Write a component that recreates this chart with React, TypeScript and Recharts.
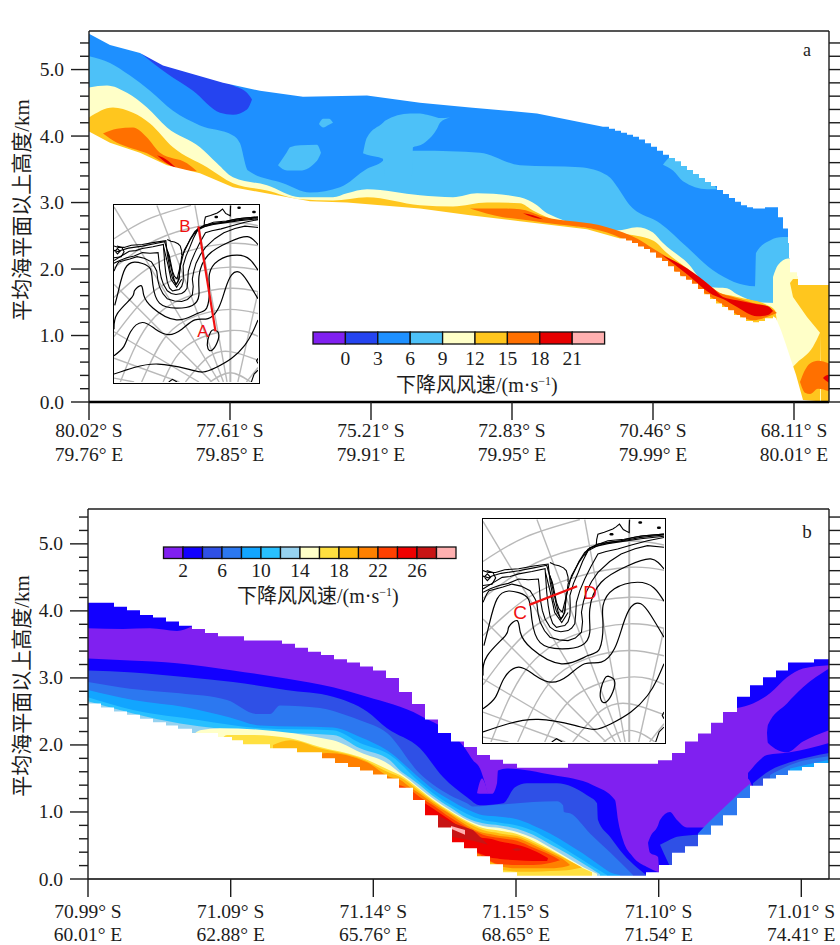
import React from "react";
import { ComposedChart, Area, Line, LineChart, XAxis, YAxis } from "recharts";

type Pt = number[];
const SERIF = "'Liberation Serif','Noto Sans CJK SC',serif";
const INK = "#1c1c1c";

// tick labels
const aLat = ["80.02° S", "77.61° S", "75.21° S", "72.83° S", "70.46° S", "68.11° S"];
const aLon = ["79.76° E", "79.85° E", "79.91° E", "79.95° E", "79.99° E", "80.01° E"];
const bLat = ["70.99° S", "71.09° S", "71.14° S", "71.15° S", "71.10° S", "71.01° S"];
const bLon = ["60.01° E", "62.88° E", "65.76° E", "68.65° E", "71.54° E", "74.41° E"];
const aTicks = [0, 141, 282, 423, 564, 705];
const bTicks = [0, 142.7, 285.3, 428, 570.7, 713.3];
const yTicks = [0, 0.2, 0.4, 0.6, 0.8, 1, 1.2, 1.4, 1.6, 1.8, 2, 2.2, 2.4, 2.6, 2.8, 3, 3.2, 3.4, 3.6, 3.8, 4, 4.2, 4.4, 4.6, 4.8, 5, 5.2, 5.4];

// legends
const aColors = ["#8020F0", "#2544F0", "#1E90FF", "#4DC1F8", "#FFFFC8", "#FFC61E", "#FF7000", "#E60000", "#FFB0B0"];
const aLegend = ["0", "3", "6", "9", "12", "15", "18", "21"];
const bColors = ["#8020F0", "#1200FF", "#2F50E6", "#2C78F0", "#12A5FF", "#28C0FF", "#96D2F0", "#FFFFC8", "#FFE040", "#FFB90F", "#FF8000", "#FF4000", "#F00000", "#C81414", "#FFB0B0"];
const bLegend = ["2", "", "6", "", "10", "", "14", "", "18", "", "22", "", "26"];

// panel a: [distance, upper km, lower km]
const aEnvelope: Pt[] = [[0, 5.54], [21, 5.37], [51, 5.25], [74, 5.06], [134, 4.8], [171, 4.68], [214, 4.59], [278, 4.61], [331, 4.5], [381, 4.43], [448, 4.34], [514, 4.14]];
const aEnvelopeSteps: Pt[] = [[514, 4.14], [520, 4.11], [526, 4.08], [532, 4.05], [538, 4.02], [544, 3.99], [550, 3.95], [556, 3.89], [562, 3.84], [568, 3.78], [574, 3.72], [580, 3.67], [586, 3.62], [592, 3.55], [598, 3.49], [604, 3.43], [610, 3.37], [616, 3.31], [622, 3.25], [628, 3.19], [634, 3.13], [640, 3.07], [646, 3.01], [652, 2.96], [658, 2.93], [664, 2.91], [676, 2.93], [689, 2.78], [694, 2.61], [699, 2.39], [700, 2.16], [701, 1.95], [708, 1.89], [709, 1.76], [740, 1.76]];
const aTerrain: Pt[] = [[0, 4.07], [21, 3.9], [51, 3.75], [78, 3.56], [111, 3.44], [144, 3.23], [188, 3.11], [221, 3.02], [258, 3.0], [331, 2.91], [381, 2.81], [431, 2.72], [498, 2.6], [531, 2.46]];
const aTerrainSteps: Pt[] = [[531, 2.46], [537, 2.43], [543, 2.39], [549, 2.34], [555, 2.3], [561, 2.25], [567, 2.17], [573, 2.12], [579, 2.04], [585, 1.96], [591, 1.89], [597, 1.84], [603, 1.78], [609, 1.7], [615, 1.62], [621, 1.55], [627, 1.48], [633, 1.43], [639, 1.38], [645, 1.31], [651, 1.27], [657, 1.22], [664, 1.2], [670, 1.22], [676, 1.26], [684, 1.29]];
const aTerrainEnd: Pt[] = [[684, 1.29], [687, 1.26], [692, 1.08], [697, 0.86], [702, 0.63], [707, 0.41], [714, 0.03], [740, 0]];
const aBlueBase: Pt[] = [[0, 5.58], [740, 5.58]];
const aLightMain: Pt[] = [[0, 5.2], [21, 5.1], [41, 4.91], [61, 4.68], [84, 4.38], [111, 4.16], [144, 4.01], [151, 3.89], [159, 3.48], [194, 3.29], [221, 3.15], [251, 3.23], [278, 3.51], [294, 3.63], [295, 3.78], [331, 3.78], [391, 3.75], [431, 3.56], [491, 3.53], [518, 3.41], [544, 2.91], [571, 2.69], [598, 2.33], [624, 1.98], [666, 1.74], [667, 2.24], [681, 2.43], [694, 2.48], [700, 2.48]];
const aLightBlob: Pt[] = [[274, 3.74, 3.74], [278, 3.98, 3.72], [294, 4.2, 3.66], [296, 4.23, 3.4], [321, 4.34, 3.4], [323, 4.34, 3.4], [324, 4.34, 3.83], [331, 4.34, 3.86], [338, 4.32, 3.93], [348, 4.28, 4.11], [351, 4.27, 4.2], [361, 4.28, 4.28]];
const aLightIsland: Pt[] = [[189, 3.56, 3.56], [198, 3.76, 3.48], [201, 3.83, 3.48], [211, 3.86, 3.48], [228, 3.87, 3.63], [232, 3.75, 3.75]];
const aLightDot: Pt[] = [[230, 4.18, 4.18], [234, 4.26, 4.13], [240, 4.26, 4.17], [244, 4.2, 4.2]];
const aLightWedge: Pt[] = [[574, 3.57, 3.57], [584, 3.7, 3.48], [594, 3.6, 3.32], [618, 3.5, 3.2], [624, 3.3, 3.2], [628, 3.2, 3.2]];
const aDark: Pt[] = [[53, 5.24, 5.23], [78, 5.1, 4.94], [104, 5.0, 4.68], [131, 4.85, 4.35], [144, 4.76, 4.32], [158, 4.65, 4.4], [163, 4.55, 4.55]];
const aCream: Pt[] = [[0, 4.73], [18, 4.76], [38, 4.65], [58, 4.43], [78, 4.13], [111, 3.83], [128, 3.59], [144, 3.38], [178, 3.26], [211, 3.08], [244, 3.08], [258, 3.14], [278, 3.2], [331, 3.11], [364, 3.08], [388, 3.14], [431, 3.08], [448, 2.96], [458, 2.84], [528, 2.58], [548, 2.63], [564, 2.55], [574, 2.39], [598, 2.1], [621, 1.73], [638, 1.71], [648, 1.62], [671, 1.5], [686, 1.49]];
const aCreamRight: Pt[] = [[684, 1.88], [689, 2.06], [699, 2.16], [740, 2.16]];
const aYellow: Pt[] = [[0, 4.28], [24, 4.43], [44, 4.35], [61, 4.19], [84, 3.83], [118, 3.53], [144, 3.29], [178, 3.18], [211, 3.05], [244, 3.03], [278, 3.08], [331, 2.96], [364, 2.94], [398, 3.0], [431, 2.99], [444, 2.88], [458, 2.78], [531, 2.54], [564, 2.43], [578, 2.24], [598, 2.01], [624, 1.68], [648, 1.58], [678, 1.46], [686, 1.38], [688, 1.2]];
const aYellowUpper: Pt[] = [[701, 1.79, 1.79], [704, 1.85, 1.58], [718, 1.85, 1.28], [731, 1.85, 1.04], [732, 1.85, 0], [740, 1.85, 0]];
const aYellowLower: Pt[] = [[704, 0.53], [708, 0.59], [724, 0.83], [731, 1.04]];
const aOrangeLeft: Pt[] = [[14, 4.04, 4.04], [28, 4.11, 3.9], [44, 4.13, 3.81], [58, 3.98, 3.74], [71, 3.75, 3.63], [98, 3.59, 3.48], [108, 3.47, 3.47]];
const aOrangeMid: Pt[] = [[381, 2.91, 2.91], [414, 2.91, 2.78], [431, 2.9, 2.75], [454, 2.79, 2.7], [518, 2.63, 2.55], [548, 2.46, 2.34], [564, 2.31, 2.19], [591, 2.06, 1.91], [614, 1.83, 1.65], [631, 1.64, 1.49], [644, 1.58, 1.35], [664, 1.49, 1.23], [678, 1.44, 1.28], [688, 1.34, 1.34]];
const aOrangeRight: Pt[] = [[711, 0.3, 0.3], [716, 0.48, 0.14], [721, 0.58, 0.12], [729, 0.62, 0.2], [740, 0.58, 0.16]];
const aRedLeft: Pt[] = [[68, 3.71, 3.71], [76, 3.66, 3.61], [88, 3.51, 3.51]];
const aRedThin: Pt[] = [[434, 2.84, 2.84], [444, 2.81, 2.78], [454, 2.75, 2.75]];
const aRedMain: Pt[] = [[573, 2.21, 2.21], [598, 2.01, 1.92], [624, 1.71, 1.61], [634, 1.58, 1.55], [648, 1.53, 1.43], [668, 1.47, 1.29], [679, 1.44, 1.31], [684, 1.37, 1.37]];
const aRedRight: Pt[] = [[734, 0.36, 0.36], [737, 0.4, 0.32], [740, 0.41, 0.29]];

// panel b
const bEnvelope: Pt[] = [[0, 4.12], [26, 4.06], [39, 4.01], [52, 3.94], [65, 3.9], [78, 3.84], [91, 3.78], [104, 3.73], [117, 3.67], [130, 3.62], [156, 3.56], [194, 3.51], [207, 3.45], [220, 3.39], [233, 3.34], [246, 3.28], [259, 3.23], [272, 3.17], [285, 3.11], [298, 3.0], [311, 2.79], [324, 2.61], [337, 2.38], [350, 2.18], [363, 2.05], [376, 1.97], [389, 1.85], [402, 1.78], [415, 1.72], [429, 1.66], [480, 1.72], [570, 1.77], [584, 1.88], [597, 2.05], [610, 2.17], [623, 2.33], [635, 2.49], [649, 2.72], [662, 2.89], [675, 3.01], [688, 3.11], [700, 3.23], [726, 3.28], [741, 3.28]];
const bTerrain: Pt[] = [[0, 2.62], [13, 2.56], [26, 2.5], [39, 2.45], [52, 2.39], [65, 2.34], [78, 2.29], [90, 2.24], [104, 2.18], [130, 2.12], [144, 2.07], [155, 2.01], [182, 1.95], [209, 1.89], [234, 1.8], [247, 1.73], [260, 1.67], [272, 1.62], [285, 1.56], [299, 1.5], [311, 1.36], [325, 1.18], [337, 0.95], [350, 0.77], [364, 0.55], [376, 0.46], [389, 0.34], [402, 0.22], [415, 0.1], [429, 0.05], [558, 0.1], [571, 0.21], [584, 0.39], [597, 0.49], [610, 0.66], [623, 0.8], [635, 0.95], [649, 1.21], [662, 1.39], [675, 1.5], [688, 1.55], [700, 1.62], [714, 1.67], [726, 1.73], [741, 1.73]];
const bPurpleBase: Pt[] = [[0, 5.52], [741, 5.52]];
const bBlueTop: Pt[] = [[0, 4.3, 3.74], [35, 4.3, 3.73], [62, 4.3, 3.74], [89, 4.3, 3.7], [104, 4.3, 3.77]];
const bBlue: Pt[] = [[0, 3.29], [42, 3.26], [89, 3.22], [145, 3.11], [198, 2.99], [245, 2.86], [279, 2.72], [332, 2.44], [377, 1.95], [385, 1.77], [392, 1.65], [397, 1.43], [400, 1.27], [404, 1.27], [409, 1.43], [410, 1.62], [419, 1.65], [465, 1.55], [505, 1.4], [527, 1.18], [530, 0.88], [535, 0.58], [545, 0.33], [559, 0.18], [571, 0.1]];
const bTongue: Pt[] = [[389, 1.28, 1.28], [394, 1.5, 1.27], [397, 1.43, 1.27], [400, 1.27, 1.27]];
const bPocketBlue: Pt[] = [[560, 0.54, 0.54], [562, 0.62, 0.39], [570, 0.8, 0.33], [572, 0.88, 0], [582, 1.0, 0], [589, 0.88, 0], [599, 0.77, 0], [622, 0.77, 0]];
const bPocketRoyal: Pt[] = [[572, 0.51, 0.51], [580, 0.57, 0.25], [589, 0.63, 0], [610, 0.66, 0]];
const bEdgeStrip: Pt[] = [[610, 0.68], [623, 0.88], [635, 1.05], [649, 1.25], [662, 1.42]];
const bUpperRightBlue: Pt[] = [[649, 3.6, 2.55], [665, 3.6, 2.62], [682, 3.6, 2.77], [699, 3.6, 3.01], [715, 3.6, 3.14], [741, 3.6, 3.19]];
const bBlobRight: Pt[] = [[679, 2.18, 2.18], [680, 2.3, 2.03], [699, 2.62, 1.89], [715, 2.86, 2.05], [741, 3.14, 2.22]];
const bLowerRightBlue: Pt[] = [[660, 1.58, 1.5], [664, 1.65, 1.38], [670, 1.75, 0], [679, 1.85, 0], [702, 1.89, 0], [741, 2.03, 0]];
const bLowerRightRoyal: Pt[] = [[665, 1.43, 0], [682, 1.62, 0], [702, 1.74, 0], [741, 1.88, 0]];
const bLowerRightSky: Pt[] = [[682, 1.55, 0], [702, 1.7, 0], [741, 1.83, 0]];
const bLowerRightAzure: Pt[] = [[702, 1.65, 0], [741, 1.78, 0]];
const bRoyal: Pt[] = [[0, 3.11], [45, 3.08], [99, 3.01], [145, 2.94], [198, 2.82], [245, 2.72], [279, 2.5], [299, 2.25], [332, 1.95], [355, 1.52], [379, 1.22], [392, 1.1], [415, 1.13], [427, 1.37], [439, 1.43], [469, 1.43], [499, 1.25], [509, 1.13], [510, 0.88], [522, 0.63], [532, 0.43], [559, 0.05]];
const bSky: Pt[] = [[0, 2.94], [42, 2.84], [92, 2.77], [139, 2.67], [169, 2.46], [182, 2.46], [192, 2.59], [232, 2.55], [259, 2.44], [272, 2.37], [299, 2.18], [332, 1.57], [345, 1.41], [362, 1.25], [379, 1.13], [385, 1.08], [412, 1.11], [445, 1.15], [469, 1.16], [475, 1.1], [476, 1.0], [482, 0.98], [502, 0.68], [522, 0.4], [545, 0.06]];
const bAzure: Pt[] = [[0, 2.82], [45, 2.67], [99, 2.56], [142, 2.41], [172, 2.29], [245, 2.26], [272, 2.12], [299, 1.92], [332, 1.5], [345, 1.34], [362, 1.18], [379, 1.04], [395, 0.95], [412, 0.93], [429, 0.89], [445, 0.8], [462, 0.68], [479, 0.53], [495, 0.38], [512, 0.2], [522, 0.1], [532, 0.06]];
const bCyan: Pt[] = [[0, 2.71], [45, 2.52], [112, 2.37], [172, 2.25], [245, 2.22], [272, 2.03], [302, 1.85], [332, 1.44], [345, 1.28], [362, 1.11], [379, 0.97], [395, 0.88], [412, 0.84], [429, 0.8], [445, 0.72], [462, 0.58], [479, 0.43], [495, 0.28], [509, 0.15], [519, 0.06]];
const bPale: Pt[] = [[0, 2.65], [45, 2.47], [92, 2.32], [179, 2.19], [245, 2.15], [272, 1.95], [302, 1.77], [312, 1.62], [322, 1.51], [332, 1.4], [345, 1.24], [362, 1.07], [379, 0.91], [395, 0.83], [412, 0.8], [429, 0.75], [445, 0.66], [462, 0.52], [479, 0.38], [495, 0.23], [512, 0.07]];
const bCream: Pt[] = [[105, 2.15], [112, 2.22], [132, 2.25], [245, 2.07], [272, 1.89], [302, 1.7], [312, 1.58], [322, 1.475], [332, 1.35], [345, 1.2], [362, 1.03], [379, 0.88], [395, 0.79], [412, 0.76], [429, 0.7], [445, 0.61], [462, 0.47], [479, 0.32], [495, 0.18], [509, 0.08]];
const bLemon: Pt[] = [[132, 2.05], [139, 2.15], [165, 2.15], [202, 2.1], [232, 1.97], [272, 1.82], [302, 1.62], [312, 1.55], [322, 1.45], [332, 1.33], [345, 1.18], [362, 1.01], [379, 0.86], [395, 0.76], [412, 0.72], [429, 0.67], [445, 0.57], [462, 0.44], [479, 0.3], [495, 0.16], [504, 0.1]];
const bGold: Pt[] = [[185, 2.0], [202, 2.07], [232, 1.95], [272, 1.8], [302, 1.58], [312, 1.52], [322, 1.42], [332, 1.3], [345, 1.16], [362, 0.99], [379, 0.84], [395, 0.73], [412, 0.68, 0], [415, 0.67, 0.13], [429, 0.64, 0.11], [445, 0.54, 0.11], [462, 0.42, 0.12], [479, 0.29, 0.13], [494, 0.17, 0.17]];
const bOrange: Pt[] = [[225, 1.85], [239, 1.88], [279, 1.74], [302, 1.52], [312, 1.48], [322, 1.37], [332, 1.27], [345, 1.13], [362, 0.97], [379, 0.8], [395, 0.69, 0], [402, 0.67, 0.25], [412, 0.64, 0.19], [429, 0.61, 0.16], [445, 0.51, 0.16], [462, 0.39, 0.16], [479, 0.25, 0.19], [482, 0.21, 0.21]];
const bVermilion: Pt[] = [[299, 1.42], [312, 1.4], [322, 1.33], [332, 1.22], [345, 1.1], [362, 0.92], [379, 0.77], [389, 0.7, 0.38], [395, 0.66, 0.33], [412, 0.61, 0.22], [429, 0.57, 0.21], [445, 0.47, 0.21], [462, 0.36, 0.24], [472, 0.28, 0.28]];
const bRed: Pt[] = [[332, 1.18], [345, 1.05], [362, 0.88], [377, 0.72, 0.46], [395, 0.61, 0.36], [402, 0.6, 0.32], [412, 0.56, 0.3], [429, 0.51, 0.28], [445, 0.43, 0.27], [459, 0.32, 0.27], [460, 0.31, 0.31]];
const bCrimson: Pt[] = [[350, 0.95, 0.77], [364, 0.84, 0.63], [385, 0.73, 0.57], [400, 0.51, 0.51]];
const bCrimsonDot: Pt[] = [[424, 0.44, 0.44], [429, 0.46, 0.42], [434, 0.44, 0.44]];
const bPink: Pt[] = [[363, 0.79, 0.75], [377, 0.73, 0.66]];

// inset map, in map-sheet units
const gratArcs: Pt[][] = [
  [[66.6, 0], [80.8, 6.4], [95, 0]],
  [[49.6, 0], [65.3, 17.2], [80.8, 21], [100, 15]],
  [[34.1, 0], [50.7, 25], [80.8, 35.6], [100, 31.6]],
  [[19.2, 0], [36.1, 31.6], [58, 46], [80.8, 50.2], [100, 47.3]],
  [[4.4, 0], [23.4, 39.2], [50.7, 58.8], [80.8, 64.8], [100, 62.4]],
  [[0, 31.4], [23.4, 59.3], [50.7, 74.3], [80.8, 79.4], [100, 77.4]],
  [[0, 58.4], [23.4, 78.3], [50.7, 90.3], [80.8, 95.8], [100, 94.2]],
  [[0, 78.8], [23.4, 95.2], [50.7, 105.7], [80.8, 110.2], [100, 108]],
  [[0, 99], [23.4, 112.4], [53.5, 122]],
];
const gratRays: Pt[][] = [
  [[80.8, 122], [80.8, 0]],
  [[56.2, 122], [78.5, 0]],
  [[29.8, 122], [76, 0]],
  [[0, 121], [73, 0]],
  [[0, 67.5], [68, 0]],
  [[0, 34.7], [59, 0]],
  [[0, 16.4], [45.4, 0]],
  [[0, 2.7], [14, 0]],
  [[100, 62], [86, 0]],
  [[100, 10], [92, 0]],
];
const contours: Pt[][] = [
  [[0, 5.5], [14, 10], [30.6, 12.4], [50.7, 9.1], [61.7, 6.9], [70.8, 10], [81.7, 16.4], [90.9, 25.5], [96.4, 34.7], [100, 42.9]],
  [[69, 36.1], [72.6, 33.8], [71.7, 27.4], [68.1, 22], [65.3, 22.9], [65, 28.4], [67.2, 34.7], [69, 36.1]],
  [[0, 18.2], [6.9, 24.6], [11.5, 34.7], [19.7, 41.1], [28.8, 36.5], [38, 32.8], [47.1, 36.5], [56.2, 42.9], [65.3, 43.8], [72.6, 51.1], [77.2, 63.9], [81.7, 74], [87.2, 75.8], [92.7, 69.5], [100, 57.5]],
  [[0, 36.5], [2.4, 47.4], [12.4, 58.4], [14.2, 63], [18.8, 66.6], [20.6, 60.2], [27, 51.1], [43.4, 42.9], [58, 47.4], [64.4, 51.1], [66.3, 63.9], [66.3, 74.8], [72.6, 84], [85.4, 87.6], [94.5, 84.5], [100, 77.2]],
  [[0.5, 52.9], [3.3, 63.9], [7.8, 78.5], [14.2, 82.8], [19.7, 81.9], [25.2, 78.2], [27, 67.2], [31.6, 54.5], [43.4, 51.1], [54.4, 52.9], [59, 60.2], [59, 72.9], [65.3, 87.6], [80, 96.7], [92.7, 100.4], [100, 94.9]],
];
const coastLines: Pt[][] = [
  [[0, 76.6], [2, 81], [3.3, 83], [7, 83.9], [11, 85], [16, 86.6], [21, 85.5], [26, 83], [28.5, 79], [29.7, 76.6], [30.5, 70], [31.6, 65.7], [34, 61], [37, 57.5], [42, 56], [47, 55.6], [51, 57], [54.4, 60.2], [55, 66], [54.4, 71.2], [55.5, 77], [57, 82.1], [60, 88], [63.5, 93], [70, 99], [76.3, 103.1], [84, 106], [90.9, 107.7], [100, 106.8]],
  [[0, 82.1], [4, 84], [8.8, 85.8], [14, 87], [19.7, 89.4], [25, 89], [30.6, 89.4], [31.2, 84], [31.6, 78.5], [32.8, 72], [34.3, 67.5], [37, 63], [39.8, 61.1], [43, 60.5], [47, 61.1], [49, 62.5], [50.7, 64.8], [51.2, 70], [51.6, 76.6], [53.5, 83], [56.2, 89.4], [59.5, 96], [63.5, 103.1], [68, 104.5], [74.4, 105.8], [82, 108], [90.9, 110.4], [100, 112.2]],
  [[0, 83.9], [5, 87], [10.6, 90.3], [15, 90.8], [19.7, 92.2], [27, 93.5], [34.3, 95], [34.8, 88], [35.2, 82.1], [36, 75], [37, 69.3], [38.5, 65], [40.6, 62.9], [43, 63.5], [45.2, 63.9], [47, 66], [48, 69.3], [48.2, 75], [48, 80.3], [50, 87], [52.6, 93], [55, 99], [58, 104.9], [63, 107.5], [69, 109.5], [78, 110.5], [87.2, 112.2], [100, 113.5]],
  [[0, 94], [3, 93], [7, 93], [12, 94.5], [19.7, 95], [28, 96.5], [36, 97.6], [36.5, 93], [37, 88.5], [38, 83], [38.9, 77.5], [40.5, 72], [43, 67.5], [44.2, 69], [45.2, 72.1], [46, 79], [47, 86.7], [49, 90.5], [50.7, 94], [53, 99], [56.2, 104], [60, 106.8], [63.5, 108.6], [70, 109.5], [76.3, 110.4], [83, 112.2], [89, 113.1], [100, 114]],
  [[0, 91], [3, 90], [5, 91], [10, 92.5], [19.7, 93.9], [28, 95.5], [35.2, 96.9], [36.6, 92], [38.3, 87.6], [39.5, 82], [40.6, 76.6], [42, 73], [43.8, 71.2], [46, 80], [48.9, 91.2], [53, 98.5], [58, 105.8], [63, 108.2], [69, 110.4], [78, 111.2], [87.2, 113], [100, 114]],
  [[37, 91.2], [39, 82], [41.6, 71], [43, 67.2], [45.2, 71], [46, 82]],
  [[34.5, 93], [37.5, 81], [39.6, 71], [43.5, 65.5], [47, 71]],
  [[56.2, 102], [59, 106.5], [69, 108.8], [87.2, 111.5], [100, 112.8]],
  [[37, 98.5], [39.5, 97.2], [42, 96.7], [44.5, 95.5], [46, 94], [47, 90.5], [47, 87.6]],
  [[62.6, 108], [62.8, 111], [63.5, 114], [67, 115], [71.7, 116.8], [73.5, 118], [75.4, 119.5], [77.5, 116.5], [79, 115.7], [80.8, 114.8], [80.8, 118], [81, 122]],
  [[0.5, 90.3], [2.4, 92.2], [4.2, 90.3], [2.4, 88.5], [1.1, 90]],
  [[2, 94], [5.5, 93], [7, 90], [5, 86.5], [0, 85.8]],
  [[38, 0], [40.6, 1.8], [43.8, 0]],
  [[100, 16.4], [99, 14.6], [100, 12.8]],
  [[95.4, 0], [97.3, 5.5], [100, 8.2]],
];
const specks: Pt[][] = [
  [[86.5, 120.4], [87.2, 120.4]],
  [[96.8, 117.5], [97.6, 117.5]],
  [[70.6, 114], [71.4, 114]],
];
const sectionAB: Pt[] = [[58.6, 107.5], [70.5, 35]];
const sectionCD: Pt[] = [[25.5, 75.2], [52, 85.4]];

const toRows = (pts: Pt[]) => pts.map(([x, hi, lo = 0]) => ({ x, v: [lo, hi] }));
const toXY = (pts: Pt[]) => pts.map(([x, y]) => ({ x, y }));
const above = (pts: Pt[], top: number): Pt[] => pts.map(([x, y]) => [x, top, y]);

type Layer = { pts: Pt[]; color: string; curve?: "linear" | "stepAfter" };
const WHITE = "#ffffff";

const aLayers: Layer[] = [
  { pts: aBlueBase, color: aColors[2] },
  { pts: aLightMain, color: aColors[3] },
  { pts: aLightBlob, color: aColors[3] },
  { pts: aLightIsland, color: aColors[3] },
  { pts: aLightDot, color: aColors[3] },
  { pts: aLightWedge, color: aColors[3] },
  { pts: aDark, color: aColors[1] },
  { pts: aCream, color: aColors[4] },
  { pts: aCreamRight, color: aColors[4] },
  { pts: aYellow, color: aColors[5] },
  { pts: aYellowUpper, color: aColors[5], curve: "linear" },
  { pts: aYellowLower, color: aColors[5] },
  { pts: aOrangeLeft, color: aColors[6] },
  { pts: aOrangeMid, color: aColors[6] },
  { pts: aOrangeRight, color: aColors[6] },
  { pts: aRedLeft, color: aColors[7] },
  { pts: aRedThin, color: aColors[7] },
  { pts: aRedMain, color: aColors[7] },
  { pts: aRedRight, color: aColors[7] },
  { pts: above(aEnvelope, 5.58), color: WHITE },
  { pts: above(aEnvelopeSteps, 5.58), color: WHITE, curve: "stepAfter" },
  { pts: aTerrain, color: WHITE },
  { pts: aTerrainSteps, color: WHITE, curve: "stepAfter" },
  { pts: aTerrainEnd, color: WHITE, curve: "linear" },
];

const bLayers: Layer[] = [
  { pts: bPurpleBase, color: bColors[0] },
  { pts: bBlueTop, color: bColors[1] },
  { pts: bUpperRightBlue, color: bColors[1] },
  { pts: bBlobRight, color: bColors[1] },
  { pts: bLowerRightBlue, color: bColors[1] },
  { pts: bLowerRightRoyal, color: bColors[2] },
  { pts: bLowerRightSky, color: bColors[3] },
  { pts: bLowerRightAzure, color: bColors[4] },
  { pts: bPocketBlue, color: bColors[1] },
  { pts: bPocketRoyal, color: bColors[2] },
  { pts: bEdgeStrip, color: bColors[3] },
  { pts: bBlue, color: bColors[1] },
  { pts: bTongue, color: bColors[0] },
  { pts: bRoyal, color: bColors[2] },
  { pts: bSky, color: bColors[3] },
  { pts: bAzure, color: bColors[4] },
  { pts: bCyan, color: bColors[5] },
  { pts: bPale, color: bColors[6] },
  { pts: bCream, color: bColors[7] },
  { pts: bLemon, color: bColors[8] },
  { pts: bGold, color: bColors[9] },
  { pts: bOrange, color: bColors[10] },
  { pts: bVermilion, color: bColors[11] },
  { pts: bRed, color: bColors[12] },
  { pts: bCrimson, color: bColors[13], curve: "linear" },
  { pts: bCrimsonDot, color: bColors[13] },
  { pts: bPink, color: bColors[14], curve: "linear" },
  { pts: above(bEnvelope, 5.52), color: WHITE, curve: "stepAfter" },
  { pts: bTerrain, color: WHITE, curve: "stepAfter" },
];

function LeftTick(props: any) {
  const { x, y, payload } = props;
  const v = payload.value as number;
  const major = Math.abs(v - Math.round(v)) < 1e-6;
  return (
    <g>
      <line x1={x} x2={x - (major ? 18 : 9)} y1={y} y2={y} stroke={INK} strokeWidth={1.4} />
      {major && (
        <text x={x - 25} y={y + 6.5} textAnchor="end" fontFamily={SERIF} fontSize={19.5} fill={INK}>
          {v.toFixed(1)}
        </text>
      )}
    </g>
  );
}

function RightTick(props: any) {
  const { x, y } = props;
  return <line x1={x} x2={x + 18} y1={y} y2={y} stroke={INK} strokeWidth={1.4} />;
}

function makeBottomTick(ticks: number[], lat: string[], lon: string[], dy: number, gap: number) {
  return function BottomTick(props: any) {
    const { x, y, payload } = props;
    const i = ticks.indexOf(payload.value);
    return (
      <g fontFamily={SERIF} fontSize={19.5} fill={INK} textAnchor="middle">
        <line x1={x} x2={x} y1={y - 18} y2={y} stroke={INK} strokeWidth={1.4} />
        <text x={x} y={y + dy}>{lat[i]}</text>
        <text x={x} y={y + dy + gap}>{lon[i]}</text>
      </g>
    );
  };
}

function Section(props: {
  top: number; height: number; left: number; xMax: number; yMax: number; plotH: number; labelDy: number; labelGap: number;
  ticks: number[]; lat: string[]; lon: string[]; layers: Layer[]; bottomWidth: number;
}) {
  const { top, height, left, xMax, yMax, plotH, labelDy, labelGap, ticks, lat, lon, layers, bottomWidth } = props;
  return (
    <div style={{ position: "absolute", left: 0, top }}>
      <ComposedChart width={840} height={height} margin={{ left: 0, right: 0, top: 0, bottom: 0 }}>
        <XAxis xAxisId="b" dataKey="x" type="number" domain={[0, xMax]} ticks={ticks} allowDataOverflow interval={0}
          height={height - 31 - plotH} tickSize={18} tickMargin={0}
          axisLine={{ stroke: "#000", strokeWidth: bottomWidth }} tickLine={false}
          tick={makeBottomTick(ticks, lat, lon, labelDy, labelGap)} />
        <XAxis xAxisId="t" orientation="top" dataKey="x" type="number" domain={[0, xMax]} ticks={ticks} allowDataOverflow interval={0}
          height={31} tickSize={18} tick={false} axisLine={{ stroke: INK, strokeWidth: 1.4 }} tickLine={{ stroke: INK, strokeWidth: 1.4 }} />
        <YAxis yAxisId="l" type="number" domain={[0, yMax]} ticks={yTicks} allowDataOverflow interval={0}
          width={left} tickSize={0} tickMargin={0} tickLine={false} axisLine={{ stroke: INK, strokeWidth: 1.4 }} tick={LeftTick} />
        <YAxis yAxisId="r" orientation="right" type="number" domain={[0, yMax]} ticks={yTicks} allowDataOverflow interval={0}
          width={11} tickSize={0} tickMargin={0} tickLine={false} axisLine={{ stroke: INK, strokeWidth: 1.4 }} tick={RightTick} />
        {layers.map((l, i) => (
          <Area key={i} name={`band${i}`} xAxisId="b" yAxisId="l" data={toRows(l.pts)} dataKey="v"
            type={l.curve ?? (l.color === WHITE ? "linear" : "monotoneX")} fill={l.color} fillOpacity={1} stroke="none"
            dot={false} activeDot={false} isAnimationActive={false} />
        ))}
      </ComposedChart>
    </div>
  );
}

function Inset(props: { left: number; top: number; w: number; h: number; section: Pt[] }) {
  const { left, top, w, h, section } = props;
  const iw = w - 3, ih = h - 3;
  return (
    <div style={{ position: "absolute", left, top, width: w, height: h, boxSizing: "border-box", border: "1.5px solid #000", background: "#fff", overflow: "hidden" }}>
      <LineChart width={iw} height={ih} margin={{ left: 0, right: 0, top: 0, bottom: 0 }}>
        <XAxis hide dataKey="x" type="number" domain={[0, 100]} allowDataOverflow />
        <YAxis hide type="number" domain={[0, 122.3]} allowDataOverflow />
        {gratArcs.map((p, i) => (
          <Line key={`a${i}`} data={toXY(p)} dataKey="y" type="natural" stroke="#b9b9b9" strokeWidth={1.4} dot={false} activeDot={false} isAnimationActive={false} />
        ))}
        {gratRays.map((p, i) => (
          <Line key={`r${i}`} data={toXY(p)} dataKey="y" type="linear" stroke="#b9b9b9" strokeWidth={i === 0 ? 2 : 1.4} dot={false} activeDot={false} isAnimationActive={false} />
        ))}
        {contours.map((p, i) => (
          <Line key={`c${i}`} data={toXY(p)} dataKey="y" type="natural" stroke="#000" strokeWidth={1.2} dot={false} activeDot={false} isAnimationActive={false} />
        ))}
        {coastLines.map((p, i) => (
          <Line key={`k${i}`} data={toXY(p)} dataKey="y" type="linear" stroke="#000" strokeWidth={1.1} dot={false} activeDot={false} isAnimationActive={false} />
        ))}
        {specks.map((p, i) => (
          <Line key={`s${i}`} data={toXY(p)} dataKey="y" type="linear" stroke="#000" strokeWidth={2.5} strokeLinecap="round" dot={false} activeDot={false} isAnimationActive={false} />
        ))}
        <Line data={toXY(section)} dataKey="y" type="linear" stroke="#F01010" strokeWidth={2.2} dot={false} activeDot={false} isAnimationActive={false} />
      </LineChart>
    </div>
  );
}

function ColorBar(props: { x: number; y: number; w: number; h: number; colors: string[]; labels: string[]; labelY: number }) {
  const { x, y, w, h, colors, labels, labelY } = props;
  return (
    <g>
      {colors.map((c, i) => (
        <rect key={c} x={x + i * w} y={y} width={w} height={h} fill={c} stroke="#111" strokeWidth={1.3} />
      ))}
      {labels.map((t, i) => t && (
        <text key={i} x={x + (i + 1) * w} y={labelY} textAnchor="middle" fontFamily={SERIF} fontSize={19.5} fill={INK}>{t}</text>
      ))}
    </g>
  );
}

const Title = ({ x, y }: { x: number; y: number }) => (
  <text x={x} y={y} fontFamily={SERIF} fontSize={20} fill={INK}>
    下降风风速/(m·s<tspan dy={-7} fontSize={12}>−1</tspan><tspan dy={7}>)</tspan>
  </text>
);

const YTitle = ({ cy }: { cy: number }) => (
  <text x={22} y={cy} textAnchor="middle" dominantBaseline="central" transform={`rotate(-90 22 ${cy})`} fontFamily={SERIF} fontSize={21} fill={INK}>
    平均海平面以上高度/km
  </text>
);

export default function App() {
  const red = { fontFamily: "'Liberation Sans',sans-serif", fill: "#F01010", textAnchor: "middle" as const };
  return (
    <div style={{ position: "absolute", left: 0, top: 0, width: 840, height: 945, overflow: "hidden", background: "#fff" }}>
      <Section top={0} height={470} left={89} xMax={740} yMax={5.58} plotH={371} labelDy={17} labelGap={24.3} ticks={aTicks} lat={aLat} lon={aLon} layers={aLayers} bottomWidth={2.4} />
      <Section top={478} height={467} left={88} xMax={741} yMax={5.52} plotH={370} labelDy={20.5} labelGap={23} ticks={bTicks} lat={bLat} lon={bLon} layers={bLayers} bottomWidth={1.6} />
      <Inset left={113} top={204} w={147} h={180} section={sectionAB} />
      <Inset left={482} top={518} w={184} h={226} section={sectionCD} />
      <svg width={840} height={945} style={{ position: "absolute", left: 0, top: 0, pointerEvents: "none" }}>
        <YTitle cy={210} />
        <YTitle cy={686} />
        <text x={807} y={56} textAnchor="middle" fontFamily={SERIF} fontSize={18} fill={INK}>a</text>
        <text x={807} y={538} textAnchor="middle" fontFamily={SERIF} fontSize={19} fill={INK}>b</text>
        <ColorBar x={313} y={332} w={32.4} h={12} colors={aColors} labels={aLegend} labelY={365} />
        <Title x={396} y={392} />
        <ColorBar x={163.5} y={547} w={19.5} h={11.5} colors={bColors} labels={bLegend} labelY={577} />
        <Title x={237} y={603} />
        <text x={185} y={232} fontSize={17} {...red}>B</text>
        <text x={203} y={337} fontSize={17} {...red}>A</text>
        <text x={520} y={619} fontSize={19} {...red}>C</text>
        <text x={590} y={599} fontSize={19} {...red}>D</text>
      </svg>
    </div>
  );
}
